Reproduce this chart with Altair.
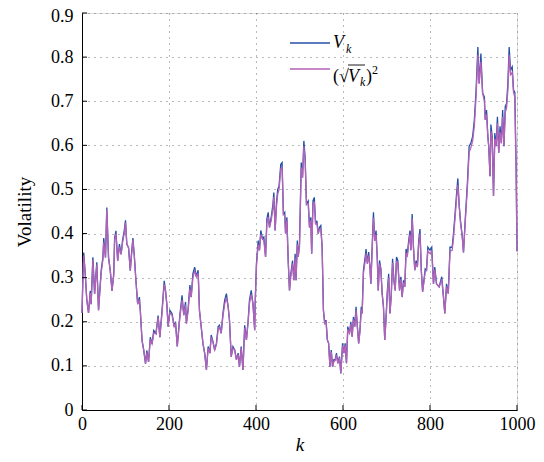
import altair as alt
import pandas as pd

# ---- data ----
k1 = [0,2,4,8,11,15,19,21,25,29,34,38,44,48,50,54,57,61,65,69,73,75,78,82,86,90,93,97,100,103,
      107,111,113,117,120,124,128,132,134,138,142,146,149,153,157,161,165,170,175,179,184,189,192,195,198]
v1 = [0.22,0.30,0.357,0.30,0.25,0.22,0.27,0.24,0.346,0.263,0.335,0.226,0.316,0.346,0.39,0.346,0.459,0.346,0.316,0.27,
      0.31,0.39,0.406,0.338,0.376,0.353,0.383,0.406,0.43,0.376,0.368,0.316,0.346,0.39,0.353,0.293,0.24,0.256,0.226,0.158,
      0.135,0.105,0.135,0.109,0.165,0.15,0.18,0.173,0.214,0.165,0.226,0.293,0.27,0.24,0.189]
p1 = [0.22,0.29,0.35,0.30,0.25,0.22,0.265,0.24,0.34,0.263,0.33,0.226,0.31,0.34,0.38,0.346,0.455,0.346,0.316,0.27,
      0.305,0.385,0.40,0.338,0.37,0.353,0.378,0.40,0.425,0.376,0.368,0.316,0.34,0.385,0.353,0.293,0.24,0.25,0.226,0.158,
      0.135,0.105,0.13,0.109,0.16,0.15,0.175,0.173,0.21,0.165,0.22,0.285,0.27,0.24,0.189]

k2 = [202,207,212,215,219,225,230,234,238,240,244,248,251,255,259,263,267,270,274,278,282,286,290,294,297,
      301,305,309,313,316,320,324,328,332,336,339,343,347,351,355,359,362,366,370,374,378,382,385,389,393,397]
v2 = [0.226,0.219,0.189,0.2,0.144,0.215,0.26,0.215,0.245,0.196,0.23,0.283,0.256,0.309,0.324,0.302,0.317,0.226,0.189,0.151,
      0.129,0.091,0.144,0.129,0.17,0.155,0.136,0.151,0.189,0.192,0.174,0.219,0.249,0.264,0.234,0.204,0.121,0.144,0.136,0.114,
      0.129,0.098,0.144,0.091,0.192,0.159,0.204,0.249,0.271,0.241,0.181]
p2 = [0.22,0.215,0.189,0.195,0.144,0.21,0.25,0.215,0.238,0.196,0.225,0.275,0.256,0.30,0.315,0.302,0.31,0.226,0.189,0.151,
      0.129,0.091,0.14,0.129,0.165,0.155,0.136,0.148,0.183,0.188,0.174,0.213,0.24,0.255,0.234,0.204,0.121,0.14,0.136,0.114,
      0.126,0.098,0.14,0.091,0.185,0.159,0.2,0.242,0.262,0.241,0.181]

k3 = [398,401,405,408,411,415,418,422,425,428,431,435,439,441,444,447,450,453,457,460,463,466,468,471,474,
      477,480,484,487,490,492,495,497,500,504,507,510,513,516,520,523,526,528,531,534,537,540,543,546,549,
      552,555,558,561,564,567,570,573,576,579,582,585,588,592]
v3 = [0.241,0.332,0.384,0.362,0.407,0.388,0.392,0.347,0.433,0.448,0.414,0.437,0.467,0.493,0.407,0.47,0.5,0.508,0.557,0.561,
      0.444,0.448,0.4,0.437,0.339,0.271,0.309,0.339,0.294,0.354,0.294,0.384,0.347,0.377,0.561,0.527,0.61,0.572,0.467,0.474,
      0.414,0.437,0.354,0.474,0.482,0.422,0.429,0.4,0.414,0.418,0.369,0.226,0.196,0.204,0.159,0.151,0.098,0.136,0.098,0.114,
      0.114,0.129,0.106,0.121]
p3 = [0.235,0.325,0.375,0.362,0.398,0.388,0.385,0.347,0.423,0.438,0.414,0.43,0.457,0.483,0.407,0.46,0.49,0.5,0.547,0.55,
      0.444,0.44,0.4,0.43,0.339,0.271,0.303,0.332,0.294,0.345,0.294,0.375,0.347,0.37,0.55,0.527,0.598,0.565,0.467,0.468,
      0.414,0.43,0.354,0.465,0.472,0.422,0.423,0.4,0.41,0.41,0.369,0.226,0.196,0.2,0.159,0.151,0.098,0.132,0.098,0.11,
      0.112,0.125,0.106,0.118]

k4 = [595,599,602,605,608,611,615,618,621,624,627,630,633,636,639,642,644,647,651,653,656,659,662,664,667,
      670,673,676,679,681,684,687,690,693,696,699,702,705,708,711,714,717,720,723,726,730,733,736,739,742,
      745,748,751,754,756,759,762,765,768,771,774,777,780,783,786,789,792,795]
v4 = [0.083,0.151,0.129,0.151,0.106,0.189,0.174,0.2,0.166,0.211,0.189,0.234,0.189,0.151,0.181,0.234,0.219,0.317,0.347,0.365,
      0.332,0.358,0.324,0.286,0.369,0.448,0.384,0.407,0.339,0.271,0.339,0.32,0.264,0.234,0.159,0.211,0.271,0.309,0.219,0.264,
      0.343,0.294,0.271,0.347,0.339,0.271,0.302,0.256,0.294,0.279,0.365,0.354,0.384,0.407,0.362,0.444,0.369,0.317,0.339,0.324,
      0.384,0.41,0.317,0.268,0.294,0.32,0.317,0.369]
p4 = [0.083,0.146,0.129,0.147,0.106,0.183,0.174,0.195,0.166,0.205,0.189,0.226,0.189,0.151,0.178,0.228,0.219,0.31,0.338,0.355,
      0.332,0.35,0.324,0.286,0.362,0.436,0.384,0.398,0.339,0.271,0.332,0.32,0.264,0.234,0.159,0.206,0.265,0.3,0.219,0.26,
      0.334,0.294,0.271,0.338,0.332,0.271,0.296,0.256,0.289,0.279,0.356,0.35,0.376,0.398,0.362,0.434,0.369,0.317,0.333,0.324,
      0.376,0.4,0.317,0.268,0.29,0.314,0.317,0.36]

k5 = [800,804,808,811,815,821,827,831,834,838,842,846,851,854,857,861,864,867,870,874,877,881,886,890,894,
      898,902,906,910,913,917,921,925,927,930,933,935,938,940,943,946,949,952,955,958,961,964,967,970,973,
      976,979,982,985,989,992,995,997,998,1000]
v5 = [0.362,0.369,0.286,0.324,0.286,0.279,0.302,0.256,0.219,0.286,0.264,0.369,0.369,0.4,0.437,0.489,0.525,0.465,0.43,0.395,
      0.357,0.432,0.515,0.598,0.605,0.62,0.658,0.726,0.823,0.74,0.808,0.718,0.71,0.658,0.68,0.62,0.598,0.53,0.647,0.62,
      0.485,0.628,0.598,0.665,0.583,0.643,0.605,0.68,0.598,0.688,0.695,0.74,0.823,0.771,0.778,0.726,0.72,0.6,0.55,0.36]
p5 = [0.355,0.36,0.286,0.318,0.286,0.279,0.296,0.256,0.219,0.28,0.264,0.36,0.362,0.39,0.428,0.478,0.51,0.465,0.425,0.395,
      0.357,0.425,0.505,0.585,0.595,0.61,0.645,0.712,0.805,0.74,0.79,0.718,0.7,0.658,0.67,0.62,0.598,0.53,0.632,0.612,
      0.485,0.615,0.598,0.65,0.583,0.63,0.605,0.665,0.598,0.675,0.685,0.725,0.805,0.76,0.765,0.72,0.71,0.6,0.55,0.36]

x_ticks = [0, 200, 400, 600, 800, 1000]
y_ticks = [0, 0.1, 0.2, 0.3, 0.4, 0.5, 0.6, 0.7, 0.8, 0.9]

K = k1 + k2 + k3 + k4 + k5
V = v1 + v2 + v3 + v4 + v5
P = p1 + p2 + p3 + p4 + p5
df = pd.DataFrame({"k": K, "v": V, "p": P})

W, H = 435, 397
FONT = "Liberation Serif, Times New Roman, serif"
BLUE = "#2350a6"
PURPLE = "#b461b8"

xs = alt.Scale(domain=[0, 1000], nice=False, zero=False)
ys = alt.Scale(domain=[0, 0.9], nice=False)

grid_common = dict(
    grid=True, gridColor="#777777", gridDash=[1, 5], gridWidth=1,
    domain=True, domainColor="black", domainWidth=1,
    ticks=False, labelFont=FONT, labelFontSize=18, labelColor="black",
    titleFont=FONT, titleFontSize=19, titleColor="black", titleFontWeight="normal",
)
xaxis = alt.Axis(values=x_ticks, format="d", labelPadding=5, titlePadding=2,
                 titleFontStyle="italic", labelFlush=False, **grid_common)
yaxis = alt.Axis(values=y_ticks, format=".1~f", labelPadding=9, titlePadding=16,
                 labelOffset=alt.condition("datum.value >= 0.85", alt.value(3), alt.value(0)),
                 **grid_common)

base = alt.Chart(df)
blue = base.mark_line(color=BLUE, strokeWidth=1.3).encode(
    x=alt.X("k:Q", scale=xs, axis=xaxis, title="k"),
    y=alt.Y("v:Q", scale=ys, axis=yaxis, title="Volatility"),
)
purple = base.mark_line(color=PURPLE, strokeWidth=1.3).encode(
    x=alt.X("k:Q", scale=xs, axis=xaxis, title="k"),
    y=alt.Y("p:Q", scale=ys, axis=yaxis, title="Volatility"),
)

# inward major ticks
xt = alt.Chart(pd.DataFrame({"k": x_ticks})).mark_rule(color="black", strokeWidth=1).encode(
    x=alt.X("k:Q", scale=xs, axis=xaxis, title="k"),
    y=alt.value(H), y2=alt.value(H - 5),
)
yt = alt.Chart(pd.DataFrame({"v": y_ticks})).mark_rule(color="black", strokeWidth=1).encode(
    y=alt.Y("v:Q", scale=ys, axis=yaxis, title="Volatility"),
    x=alt.value(0), x2=alt.value(5),
)

one = pd.DataFrame({"a": [0]})
leg_blue = alt.Chart(one).mark_rule(color=BLUE, strokeWidth=1.3).encode(
    x=alt.value(208), x2=alt.value(248), y=alt.value(30))
leg_purple = alt.Chart(one).mark_rule(color=PURPLE, strokeWidth=1.3).encode(
    x=alt.value(208), x2=alt.value(248), y=alt.value(56))


def txt(s, x, y, size=18, italic=False):
    return alt.Chart(one).mark_text(
        text=s, font=FONT, fontSize=size, fontStyle="italic" if italic else "normal",
        align="left", baseline="alphabetic", color="black",
    ).encode(x=alt.value(x), y=alt.value(y))


legend_txt = [
    txt("V", 251, 35, italic=True),
    txt("k", 264, 40, size=12, italic=True),
    txt("(", 251, 69),
    txt("\u221a", 257, 69),
    txt("V", 266, 69, italic=True),
    txt("k", 278, 73, size=12, italic=True),
    txt(")", 284, 69),
    txt("2", 290, 61, size=12),
]
overbar = alt.Chart(one).mark_rule(color="black", strokeWidth=0.9).encode(
    x=alt.value(266), x2=alt.value(283), y=alt.value(52))

chart = alt.layer(
    blue, purple, xt, yt, leg_blue, leg_purple, overbar, *legend_txt
).properties(
    width=W, height=H,
    autosize=alt.AutoSizeParams(type="none"),
    padding={"left": 74, "top": 5, "right": 19, "bottom": 44},
).configure_view(stroke=None).configure(background="white")

chart.save("out.html", embed_options={"renderer": "svg", "actions": False})
